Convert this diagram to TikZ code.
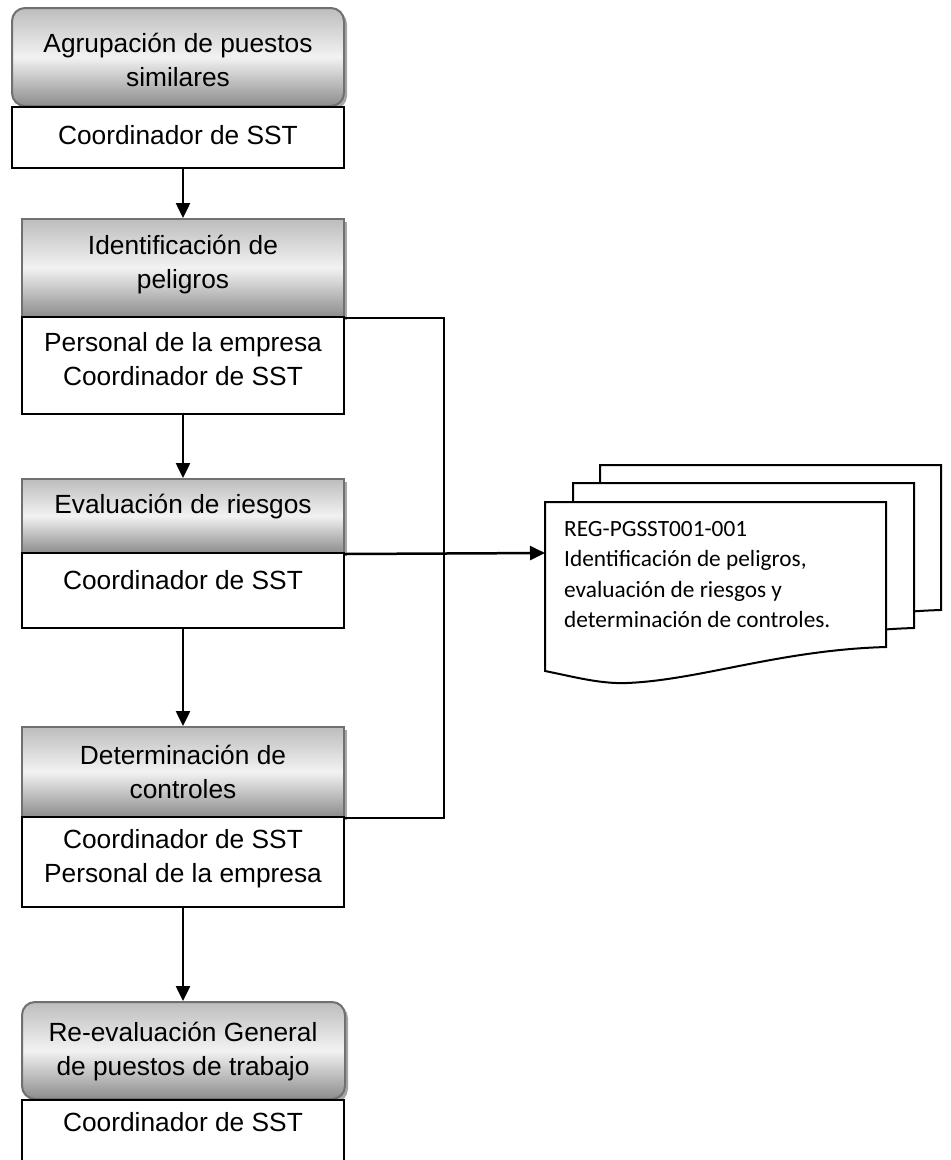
\documentclass[tikz,border=0pt]{standalone}
\usepackage{fontspec}
\setmainfont{Liberation Sans}
\newfontfamily\docfont{Carlito}
\usetikzlibrary{arrows.meta,shadows}

\definecolor{hdrline}{HTML}{707070}
\definecolor{hdrtop}{HTML}{BDBDBD}
\definecolor{hdrmid}{HTML}{F2F2F2}
\definecolor{hdrbot}{HTML}{8C8C8C}

\tikzset{
  hdr/.style={draw=hdrline, line width=2pt, top color=hdrtop, bottom color=hdrbot,
    middle color=hdrmid, inner sep=0pt,
    drop shadow={shadow xshift=3pt, shadow yshift=-3pt, fill=black!35, opacity=1}},
  hdrround/.style={hdr, rounded corners=13pt},
  role/.style={draw=black, line width=2pt, fill=white, inner sep=0pt},
  lbl/.style={font=\fontsize{26.3}{34}\selectfont, align=center, inner sep=0pt},
  arr/.style={line width=2.5pt, -{Triangle[length=15pt,width=14pt]}},
  link/.style={line width=2pt},
  docpage/.style={draw=black, line width=2pt, fill=white, line join=miter},
  doctext/.style={font=\docfont\fontsize{23.3}{30.5}\selectfont, align=left,
    anchor=north west, inner sep=0pt},
}

\begin{document}
\begin{tikzpicture}[x=1pt,y=-1pt]
\useasboundingbox (0,0) rectangle (951,1160);

% step 1
\node[hdrround, minimum width=332pt, minimum height=98pt] (h1) at (178,57) {};
\node[role, minimum width=332pt, minimum height=61pt] (r1) at (178,137.5) {};
\node[lbl] (t1) at (178,59.5) {Agrupación de puestos\\similares};
\node[lbl] (u1) at (178,135) {Coordinador de SST};

% step 2
\node[hdr, minimum width=322pt, minimum height=98pt] (h2) at (183,268) {};
\node[role, minimum width=322pt, minimum height=97pt] (r2) at (183,365.5) {};
\node[lbl] (t2) at (183,264.5) {Identificación de\\peligros};
\node[lbl] (u2) at (183,359) {Personal de la empresa\\Coordinador de SST};

% step 3
\node[hdr, minimum width=322pt, minimum height=74pt] (h3) at (183,516) {};
\node[role, minimum width=322pt, minimum height=75pt] (r3) at (183,590.5) {};
\node[lbl] (t3) at (183,507) {Evaluación de riesgos};
\node[lbl] (u3) at (183,580) {Coordinador de SST};

% step 4
\node[hdr, minimum width=322pt, minimum height=90pt] (h4) at (183,772) {};
\node[role, minimum width=322pt, minimum height=90pt] (r4) at (183,862) {};
\node[lbl] (t4) at (183,771.5) {Determinación de\\controles};
\node[lbl] (u4) at (183,858.5) {Coordinador de SST\\Personal de la empresa};

% step 5
\node[hdrround, minimum width=323pt, minimum height=97pt] (h5) at (183.5,1050.5) {};
\node[role, minimum width=322pt, minimum height=64pt] (r5) at (183,1132) {};
\node[lbl] (t5) at (183,1051.5) {Re-evaluación General\\de puestos de trabajo};
\node[lbl] (u5) at (183,1122) {Coordinador de SST};

% stacked record documents
\foreach \dx/\dy in {55/-37, 28/-19, 0/0}{
  \begin{scope}[shift={(\dx,\dy)}]
    \draw[docpage] (545,502) -- (886,502) -- (886,647)
      .. controls (780,650) and (700,680) .. (627,683)
      .. controls (600,684) and (575,677) .. (545,671) -- cycle;
  \end{scope}
}
\coordinate (docin) at (545,553);
\node[doctext] (doc) at (564,521) {REG-PGSST001-001\\Identificación de peligros,\\evaluación de riesgos y\\determinación de controles.};

% flow connectors
\draw[arr] (h2.north |- r1.south) -- (h2.north);
\draw[arr] (r2.south) -- (h3.north);
\draw[arr] (r3.south) -- (h4.north);
\draw[arr] (r4.south) -- (r4.south |- h5.north);

% feedback bracket and record output
\draw[link] (h2.south east) -- ++(99,0) |- (h4.south east);
\draw[arr] (h3.south east) -- (docin);
\end{tikzpicture}
\end{document}
